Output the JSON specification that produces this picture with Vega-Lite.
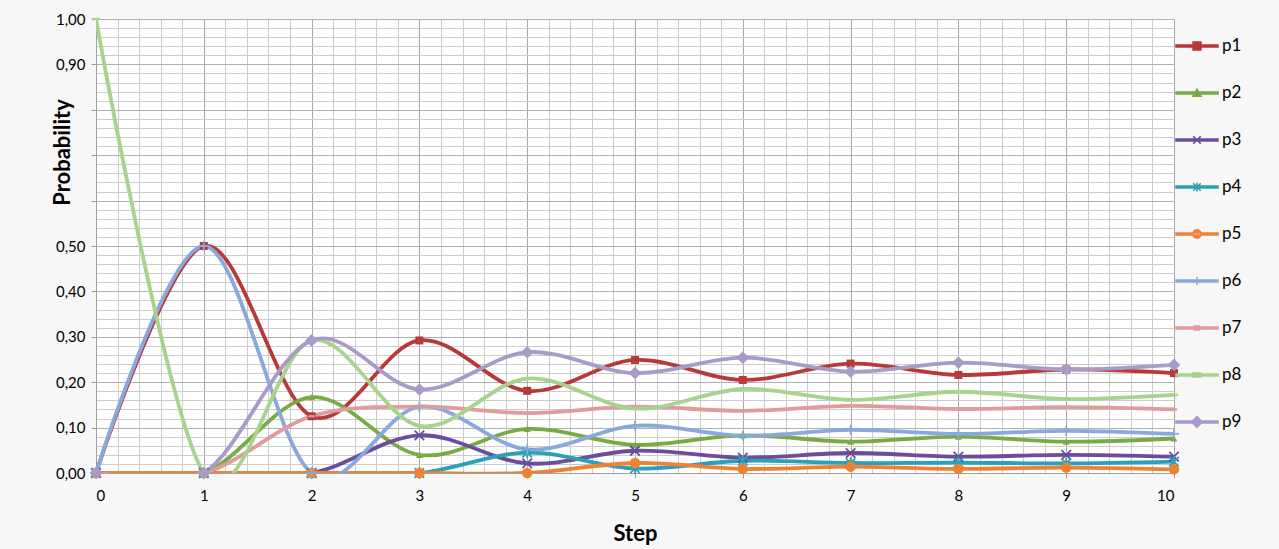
{
  "$schema": "https://vega.github.io/schema/vega-lite/v6.json",
  "width": 1078,
  "height": 454,
  "autosize": {"type": "none"},
  "padding": {"left": 96, "top": 19, "right": 105, "bottom": 76},
  "background": "#f7f7f7",
  "config": {"view": {"fill": "white", "stroke": null}, "font": "Lato"},
  "data": {"values": [
    {"step":0,"series":"p1","p":0},{"step":0,"series":"p2","p":0},{"step":0,"series":"p3","p":0},{"step":0,"series":"p4","p":0},{"step":0,"series":"p5","p":0},{"step":0,"series":"p6","p":0},{"step":0,"series":"p7","p":0},{"step":0,"series":"p8","p":1},{"step":0,"series":"p9","p":0},
    {"step":1,"series":"p1","p":0.5},{"step":1,"series":"p2","p":0},{"step":1,"series":"p3","p":0},{"step":1,"series":"p4","p":0},{"step":1,"series":"p5","p":0},{"step":1,"series":"p6","p":0.5},{"step":1,"series":"p7","p":0},{"step":1,"series":"p8","p":0},{"step":1,"series":"p9","p":0},
    {"step":2,"series":"p1","p":0.125},{"step":2,"series":"p2","p":0.167},{"step":2,"series":"p3","p":0},{"step":2,"series":"p4","p":0},{"step":2,"series":"p5","p":0},{"step":2,"series":"p6","p":0},{"step":2,"series":"p7","p":0.125},{"step":2,"series":"p8","p":0.292},{"step":2,"series":"p9","p":0.292},
    {"step":3,"series":"p1","p":0.292},{"step":3,"series":"p2","p":0.04},{"step":3,"series":"p3","p":0.083},{"step":3,"series":"p4","p":0},{"step":3,"series":"p5","p":0},{"step":3,"series":"p6","p":0.146},{"step":3,"series":"p7","p":0.146},{"step":3,"series":"p8","p":0.104},{"step":3,"series":"p9","p":0.184},
    {"step":4,"series":"p1","p":0.181},{"step":4,"series":"p2","p":0.097},{"step":4,"series":"p3","p":0.021},{"step":4,"series":"p4","p":0.045},{"step":4,"series":"p5","p":0},{"step":4,"series":"p6","p":0.052},{"step":4,"series":"p7","p":0.132},{"step":4,"series":"p8","p":0.208},{"step":4,"series":"p9","p":0.266},
    {"step":5,"series":"p1","p":0.249},{"step":5,"series":"p2","p":0.062},{"step":5,"series":"p3","p":0.049},{"step":5,"series":"p4","p":0.01},{"step":5,"series":"p5","p":0.022},{"step":5,"series":"p6","p":0.104},{"step":5,"series":"p7","p":0.146},{"step":5,"series":"p8","p":0.142},{"step":5,"series":"p9","p":0.22},
    {"step":6,"series":"p1","p":0.205},{"step":6,"series":"p2","p":0.083},{"step":6,"series":"p3","p":0.034},{"step":6,"series":"p4","p":0.027},{"step":6,"series":"p5","p":0.009},{"step":6,"series":"p6","p":0.082},{"step":6,"series":"p7","p":0.137},{"step":6,"series":"p8","p":0.185},{"step":6,"series":"p9","p":0.254},
    {"step":7,"series":"p1","p":0.241},{"step":7,"series":"p2","p":0.069},{"step":7,"series":"p3","p":0.044},{"step":7,"series":"p4","p":0.022},{"step":7,"series":"p5","p":0.014},{"step":7,"series":"p6","p":0.095},{"step":7,"series":"p7","p":0.148},{"step":7,"series":"p8","p":0.161},{"step":7,"series":"p9","p":0.223},
    {"step":8,"series":"p1","p":0.216},{"step":8,"series":"p2","p":0.08},{"step":8,"series":"p3","p":0.036},{"step":8,"series":"p4","p":0.023},{"step":8,"series":"p5","p":0.009},{"step":8,"series":"p6","p":0.086},{"step":8,"series":"p7","p":0.141},{"step":8,"series":"p8","p":0.179},{"step":8,"series":"p9","p":0.243},
    {"step":9,"series":"p1","p":0.228},{"step":9,"series":"p2","p":0.069},{"step":9,"series":"p3","p":0.04},{"step":9,"series":"p4","p":0.021},{"step":9,"series":"p5","p":0.012},{"step":9,"series":"p6","p":0.093},{"step":9,"series":"p7","p":0.145},{"step":9,"series":"p8","p":0.163},{"step":9,"series":"p9","p":0.228},
    {"step":10,"series":"p1","p":0.22},{"step":10,"series":"p2","p":0.076},{"step":10,"series":"p3","p":0.036},{"step":10,"series":"p4","p":0.025},{"step":10,"series":"p5","p":0.008},{"step":10,"series":"p6","p":0.086},{"step":10,"series":"p7","p":0.14},{"step":10,"series":"p8","p":0.172},{"step":10,"series":"p9","p":0.238}
  ]},
  "layer": [
    {
      "mark": {"type": "line", "interpolate": "cardinal", "strokeWidth": 3.8, "clip": true},
      "encoding": {
        "x": {"field": "step", "type": "quantitative", "scale": {"domain": [0, 10], "nice": false, "zero": false},
          "axis": {"orient": "bottom", "values": [0,0.2,0.4,0.6,0.8,1,1.2,1.4,1.6,1.8,2,2.2,2.4,2.6,2.8,3,3.2,3.4,3.6,3.8,4,4.2,4.4,4.6,4.8,5,5.2,5.4,5.6,5.8,6,6.2,6.4,6.6,6.8,7,7.2,7.4,7.6,7.8,8,8.2,8.4,8.6,8.8,9,9.2,9.4,9.6,9.8,10],
            "grid": true, "gridColor": "#cccccc", "gridWidth": 1, "labels": false, "ticks": false, "domain": false, "title": null}},
        "y": {"field": "p", "type": "quantitative", "scale": {"domain": [0, 1], "nice": false},
          "axis": {"orient": "left", "values": [0,0.02,0.04,0.06,0.08,0.1,0.12,0.14,0.16,0.18,0.2,0.22,0.24,0.26,0.28,0.3,0.32,0.34,0.36,0.38,0.4,0.42,0.44,0.46,0.48,0.5,0.52,0.54,0.56,0.58,0.6,0.62,0.64,0.66,0.68,0.7,0.72,0.74,0.76,0.78,0.8,0.82,0.84,0.86,0.88,0.9,0.92,0.94,0.96,0.98,1],
            "grid": true, "gridColor": "#cccccc", "gridWidth": 1, "labels": false, "ticks": false, "domain": false, "title": null}},
        "color": {"field": "series", "type": "nominal",
          "scale": {"domain": ["p1","p2","p3","p4","p5","p6","p7","p8","p9"],
                    "range": ["#b8393a","#79ab45","#6c4c9c","#2aa1b8","#ee8233","#87a9dc","#e09c9b","#a8d38e","#a99bc9"]},
          "legend": {"orient": "none", "legendX": 1079, "legendY": 5, "title": null, "padding": 0,
            "labelFontSize": 17, "labelFont": "Lato", "labelColor": "#000000", "labelOffset": 3,
            "symbolSize": 1764, "rowPadding": 17, "symbolType": "stroke",
            "encode": {"symbols": {"update": {
              "shape": {"signal": "datum.value === 'p1' ? 'M-1,-0.05H1V0.05H-1Z M-0.19,-0.19H0.19V0.19H-0.19Z' : datum.value === 'p2' ? 'M-1,-0.05H1V0.05H-1Z M0,-0.18L0.2,0.16H-0.2Z' : datum.value === 'p3' ? 'M-1,-0.05H1V0.05H-1Z M-0.18,-0.18L0.18,0.18M-0.18,0.18L0.18,-0.18' : datum.value === 'p4' ? 'M-1,-0.05H1V0.05H-1Z M-0.18,-0.18L0.18,0.18M-0.18,0.18L0.18,-0.18M0,-0.22V0.22' : datum.value === 'p5' ? 'M-1,-0.05H1V0.05H-1Z M-0.2,0A0.2,0.2 0 1,0 0.2,0A0.2,0.2 0 1,0 -0.2,0Z' : datum.value === 'p6' ? 'M-1,-0.05H1V0.05H-1Z M-0.2,0H0.2M0,-0.2V0.2' : datum.value === 'p7' ? 'M-1,-0.05H1V0.05H-1Z M-0.12,-0.1H0.12V0.1H-0.12Z' : datum.value === 'p8' ? 'M-1,-0.05H1V0.05H-1Z M-0.2,-0.09H0.2V0.09H-0.2Z' : 'M-1,-0.05H1V0.05H-1Z M0,-0.26L0.26,0L0,0.26L-0.26,0Z'"},
              "fill": {"signal": "scale('color', datum.value)"},
              "stroke": {"signal": "scale('color', datum.value)"},
              "strokeWidth": {"value": 1.5},
              "opacity": {"value": 1}
            }}}}
        }
      }
    },
    {
      "transform": [{"filter": "datum.series === 'p1'"}],
      "mark": {"type": "point", "shape": "square", "size": 64, "filled": true, "color": "#b8393a", "opacity": 1},
      "encoding": {
        "x": {"field": "step", "type": "quantitative",
          "axis": {"orient": "bottom", "values": [0,1,2,3,4,5,6,7,8,9,10], "grid": true, "gridColor": "#a8a8a8", "gridWidth": 1,
            "domain": true, "domainColor": "#a0a0a0", "ticks": true, "tickColor": "#a0a0a0", "tickSize": 5,
            "labelFontSize": 15, "labelColor": "#000000", "labelPadding": 10, "labelFont": "Lato",
            "title": "Step", "titleFontSize": 22, "titleFontWeight": "bold", "titleColor": "#000000", "titleFont": "Lato", "titleY": 60, "titleBaseline": "middle"}},
        "y": {"field": "p", "type": "quantitative",
          "axis": {"orient": "left", "values": [0,0.1,0.2,0.3,0.4,0.5,0.6,0.7,0.8,0.9,1], "grid": true, "gridColor": "#b0b0b0", "gridWidth": 1,
            "domain": true, "domainColor": "#a0a0a0", "ticks": true, "tickColor": "#a0a0a0", "tickSize": 5,
            "labelFontSize": 15, "labelColor": "#000000", "labelPadding": 6, "labelFont": "Lato",
            "labelExpr": "datum.value > 0.55 && datum.value < 0.85 ? '' : replace(format(datum.value, '.2f'), '.', ',')",
            "title": "Probability", "titleFontSize": 22, "titleFontWeight": "bold", "titleColor": "#000000", "titleFont": "Lato",
            "titleX": -34, "titleY": 133, "titleAngle": -90, "titleAlign": "center", "titleBaseline": "middle"}}
      }
    },
    {
      "transform": [{"filter": "datum.series === 'p2'"}],
      "mark": {"type": "point", "shape": "triangle-up", "size": 50, "filled": true, "color": "#79ab45", "opacity": 1},
      "encoding": {"x": {"field": "step", "type": "quantitative", "axis": null}, "y": {"field": "p", "type": "quantitative", "axis": null}}
    },
    {
      "transform": [{"filter": "datum.series === 'p3'"}],
      "mark": {"type": "point", "shape": "M-1,-1L1,1M-1,1L1,-1", "size": 90, "filled": false, "strokeWidth": 1.8, "color": "#6c4c9c", "opacity": 1},
      "encoding": {"x": {"field": "step", "type": "quantitative", "axis": null}, "y": {"field": "p", "type": "quantitative", "axis": null}}
    },
    {
      "transform": [{"filter": "datum.series === 'p4'"}],
      "mark": {"type": "point", "shape": "M-1,-1L1,1M-1,1L1,-1M0,-1.2V1.2", "size": 90, "filled": false, "strokeWidth": 1.8, "color": "#2aa1b8", "opacity": 1},
      "encoding": {"x": {"field": "step", "type": "quantitative", "axis": null}, "y": {"field": "p", "type": "quantitative", "axis": null}}
    },
    {
      "transform": [{"filter": "datum.series === 'p5'"}],
      "mark": {"type": "point", "shape": "circle", "size": 110, "filled": true, "color": "#ee8233", "opacity": 1},
      "encoding": {"x": {"field": "step", "type": "quantitative", "axis": null}, "y": {"field": "p", "type": "quantitative", "axis": null}}
    },
    {
      "transform": [{"filter": "datum.series === 'p6'"}],
      "mark": {"type": "point", "shape": "M-1,0H1M0,-1V1", "size": 100, "filled": false, "strokeWidth": 1.8, "color": "#87a9dc", "opacity": 1},
      "encoding": {"x": {"field": "step", "type": "quantitative", "axis": null}, "y": {"field": "p", "type": "quantitative", "axis": null}}
    },
    {
      "transform": [{"filter": "datum.series === 'p7'"}],
      "mark": {"type": "point", "shape": "M-1,-0.35H1V0.35H-1Z", "size": 40, "filled": true, "color": "#e09c9b", "opacity": 1},
      "encoding": {"x": {"field": "step", "type": "quantitative", "axis": null}, "y": {"field": "p", "type": "quantitative", "axis": null}}
    },
    {
      "transform": [{"filter": "datum.series === 'p8'"}],
      "mark": {"type": "point", "shape": "M-1,-0.3H1V0.3H-1Z", "size": 64, "filled": true, "color": "#a8d38e", "opacity": 1},
      "encoding": {"x": {"field": "step", "type": "quantitative", "axis": null}, "y": {"field": "p", "type": "quantitative", "axis": null}}
    },
    {
      "transform": [{"filter": "datum.series === 'p9'"}],
      "mark": {"type": "point", "shape": "diamond", "size": 160, "filled": true, "color": "#a99bc9", "opacity": 1},
      "encoding": {"x": {"field": "step", "type": "quantitative", "axis": null}, "y": {"field": "p", "type": "quantitative", "axis": null}}
    }
  ],
  "resolve": {"axis": {"x": "independent", "y": "independent"}}
}
